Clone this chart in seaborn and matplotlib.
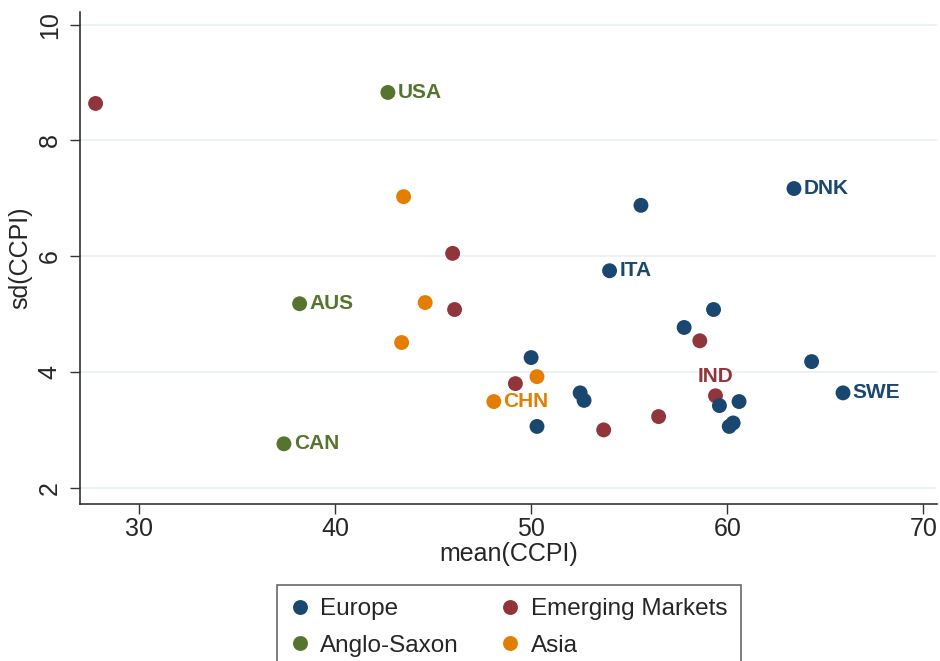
import matplotlib
matplotlib.use("Agg")
import matplotlib.pyplot as plt
import pandas as pd
import seaborn as sns

# ── Data ──────────────────────────────────────────────────────────────────────
mean_ccpi = [27.8, 42.7, 43.5, 63.4, 55.6, 46.0, 54.0, 38.2, 44.6, 46.1,
             59.3, 57.8, 58.6, 43.4, 50.0, 64.3, 50.3, 49.2, 52.5, 52.7,
             65.9, 59.4, 59.6, 60.6, 60.3, 60.1, 48.1, 50.3, 53.7, 56.5,
             37.4]
sd_ccpi = [8.64, 8.83, 7.03, 7.17, 6.88, 6.05, 5.75, 5.18, 5.20, 5.08,
           5.08, 4.77, 4.54, 4.51, 4.25, 4.18, 3.92, 3.80, 3.64, 3.51,
           3.64, 3.59, 3.42, 3.49, 3.12, 3.06, 3.49, 3.06, 3.00, 3.23,
           2.76]
group = ["Emerging Markets", "Anglo-Saxon", "Asia", "Europe", "Europe",
         "Emerging Markets", "Europe", "Anglo-Saxon", "Asia", "Emerging Markets",
         "Europe", "Europe", "Emerging Markets", "Asia", "Europe",
         "Europe", "Asia", "Emerging Markets", "Europe", "Europe",
         "Europe", "Emerging Markets", "Europe", "Europe", "Europe",
         "Europe", "Asia", "Europe", "Emerging Markets", "Emerging Markets",
         "Anglo-Saxon"]
country = ["", "USA", "", "DNK", "", "", "ITA", "AUS", "", "",
           "", "", "", "", "", "", "", "", "", "",
           "SWE", "IND", "", "", "", "", "CHN", "", "", "",
           "CAN"]

group_order = ["Europe", "Emerging Markets", "Anglo-Saxon", "Asia"]
group_colors = ["#1A476F", "#90353B", "#55752F", "#E37E00"]

df = pd.DataFrame({"mean_ccpi": mean_ccpi, "sd_ccpi": sd_ccpi,
                   "group": group, "country": country})
palette = dict(zip(group_order, group_colors))

# ── Plot ──────────────────────────────────────────────────────────────────────
sns.set_theme(style="white")
plt.rcParams["font.family"] = ["Liberation Sans", "DejaVu Sans"]

fig = plt.figure(figsize=(9.4, 6.61), dpi=100)
ax = fig.add_axes([0.085, 1 - 504 / 661, 0.912, 492 / 661])

sns.scatterplot(data=df, x="mean_ccpi", y="sd_ccpi", hue="group",
                hue_order=group_order, palette=palette, s=115,
                linewidth=0, ax=ax, legend=True, zorder=3)

for _, row in df[df["country"] != ""].iterrows():
    color = palette[row["group"]]
    if row["country"] == "IND":
        ax.annotate(row["country"], (row["mean_ccpi"], row["sd_ccpi"]),
                    xytext=(0, 7), textcoords="offset points",
                    ha="center", va="bottom", color=color,
                    fontsize=15, fontweight="bold")
    else:
        ax.annotate(row["country"], (row["mean_ccpi"], row["sd_ccpi"]),
                    xytext=(7, 0), textcoords="offset points",
                    ha="left", va="center", color=color,
                    fontsize=15, fontweight="bold")

ax.set_xlim(27.0, 70.7)
ax.set_ylim(1.72, 10.22)
ax.set_xticks([30, 40, 50, 60, 70])
ax.set_yticks([2, 4, 6, 8, 10])
ax.set_xlabel("mean(CCPI)", fontsize=18, labelpad=1)
ax.set_ylabel("sd(CCPI)", fontsize=18, labelpad=4)
ax.tick_params(axis="both", labelsize=18, length=7, width=1,
               color="#333333", direction="out", left=True, bottom=True)
ax.tick_params(axis="x", pad=2)
ax.tick_params(axis="y", pad=6)
for lbl in ax.get_yticklabels():
    lbl.set_rotation(90)
    lbl.set_va("center")
ax.yaxis.grid(True, color="#EAF2F3", linewidth=1.3)
ax.set_axisbelow(True)
for side in ["top", "right"]:
    ax.spines[side].set_visible(False)
for side in ["left", "bottom"]:
    ax.spines[side].set_color("#333333")
    ax.spines[side].set_linewidth(1.2)

# legend rows go Europe / Emerging Markets, then Anglo-Saxon / Asia
handles, labels = ax.get_legend_handles_labels()
lookup = dict(zip(labels, handles))
leg_order = ["Europe", "Anglo-Saxon", "Emerging Markets", "Asia"]
ax.legend_.remove()
leg = fig.legend([lookup[k] for k in leg_order], leg_order, ncol=2,
                 loc="upper center", bbox_to_anchor=(0.541, 1 - 585 / 661),
                 borderaxespad=0, fontsize=17.5, frameon=True, fancybox=False,
                 edgecolor="#444444", handlelength=0.8, handletextpad=0.45,
                 columnspacing=1.7, borderpad=0.55, labelspacing=0.6,
                 markerscale=1.0)
leg.get_frame().set_linewidth(1.2)

fig.savefig("out.png", dpi=100)
